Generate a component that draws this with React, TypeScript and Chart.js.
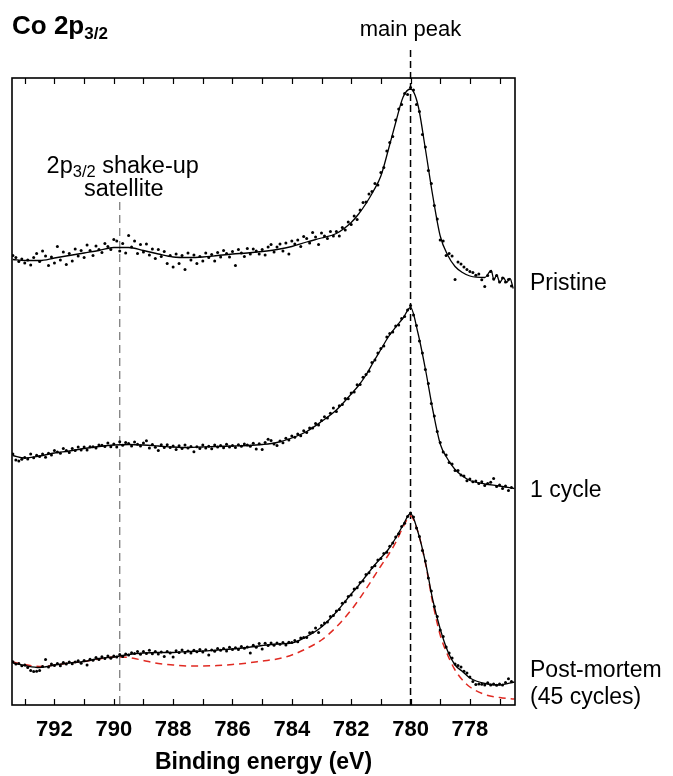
import React, { useEffect, useRef } from 'react';
import { Chart, registerables } from 'chart.js';

Chart.register(...registerables);

const FONT = '"Liberation Sans", Arial, Helvetica, sans-serif';

// Binding energy of the measured points (eV)
const dotEnergy = [
  793.4, 793.3, 793.2, 793.1, 793.0, 792.9, 792.8, 792.7, 792.6, 792.5,
  792.4, 792.3, 792.2, 792.1, 792.0, 791.9, 791.8, 791.7, 791.6, 791.5,
  791.4, 791.3, 791.2, 791.1, 791.0, 790.9, 790.8, 790.7, 790.6, 790.5,
  790.4, 790.3, 790.2, 790.1, 790.0, 789.9, 789.8, 789.7, 789.6, 789.5,
  789.4, 789.3, 789.2, 789.1, 789.0, 788.9, 788.8, 788.7, 788.6, 788.5,
  788.4, 788.3, 788.2, 788.1, 788.0, 787.9, 787.8, 787.7, 787.6, 787.5,
  787.4, 787.3, 787.2, 787.1, 787.0, 786.9, 786.8, 786.7, 786.6, 786.5,
  786.4, 786.3, 786.2, 786.1, 786.0, 785.9, 785.8, 785.7, 785.6, 785.5,
  785.4, 785.3, 785.2, 785.1, 785.0, 784.9, 784.8, 784.7, 784.6, 784.5,
  784.4, 784.3, 784.2, 784.1, 784.0, 783.9, 783.8, 783.7, 783.6, 783.5,
  783.4, 783.3, 783.2, 783.1, 783.0, 782.9, 782.8, 782.7, 782.6, 782.5,
  782.4, 782.3, 782.2, 782.1, 782.0, 781.9, 781.8, 781.7, 781.6, 781.5,
  781.4, 781.3, 781.2, 781.1, 781.0, 780.9, 780.8, 780.7, 780.6, 780.5,
  780.4, 780.3, 780.2, 780.1, 780.0, 779.9, 779.8, 779.7, 779.6, 779.5,
  779.4, 779.3, 779.2, 779.1, 779.0, 778.9, 778.8, 778.7, 778.6, 778.5,
  778.4, 778.3, 778.2, 778.1, 778.0, 777.9, 777.8, 777.7, 777.6, 777.5,
  777.4, 777.3, 777.2, 777.1, 777.0, 776.9, 776.8, 776.7, 776.6,
];

// Intensities (a.u., spectra stacked with offsets)
const pristineDots = [
  89.9, 89.5, 88.7, 89.2, 88.4, 89.0, 88.0, 89.5, 90.3, 88.7,
  90.8, 89.8, 87.9, 89.6, 88.4, 91.7, 89.0, 90.6, 88.1, 90.3,
  88.8, 91.2, 89.8, 90.9, 89.5, 92.0, 90.9, 89.9, 91.8, 91.1,
  90.5, 92.3, 91.7, 91.1, 93.1, 92.8, 90.8, 92.3, 90.4, 93.9,
  91.6, 92.8, 90.3, 92.1, 90.6, 92.2, 90.0, 91.2, 89.3, 91.1,
  89.7, 90.7, 88.3, 89.9, 87.6, 90.2, 88.3, 89.9, 87.1, 90.4,
  89.0, 90.0, 88.3, 89.7, 88.8, 90.4, 89.5, 90.1, 88.8, 90.5,
  89.6, 90.9, 90.3, 89.6, 90.7, 87.9, 91.1, 90.4, 89.7, 91.3,
  90.2, 91.2, 90.8, 90.2, 91.1, 90.0, 91.6, 92.1, 90.6, 91.6,
  92.2, 90.8, 92.4, 90.2, 92.8, 92.2, 93.0, 91.7, 93.7, 93.3,
  92.4, 94.5, 93.6, 92.1, 94.4, 93.8, 93.3, 94.7, 93.8, 94.7,
  93.8, 95.5, 95.0, 96.6, 96.1, 97.8, 97.1, 99.0, 100.5, 100.6,
  102.2, 102.7, 104.3, 104.0, 106.5, 107.5, 110.8, 112.5, 113.7, 117.0,
  119.2, 120.1, 122.3, 122.1, 123.5, 123.0, 120.1, 118.7, 114.1, 111.6,
  106.9, 104.3, 99.9, 97.2, 93.0, 92.8, 89.9, 90.3, 89.8, 85.1,
  88.6, 88.2, 87.6, 87.1, 86.7, 86.5, 85.95, 86.2, 85.05, 83.7,
  85.9, 86.7, 85.2, 85.9, 84.6, 85.4, 84.6, 85.1, 83.8,
];

const cycle1Dots = [
  50.2, 49.0, 48.8, 49.15, 49.5, 49.2, 50.2, 49.45, 49.95, 49.7,
  50.2, 49.55, 50.35, 50.0, 50.9, 50.6, 50.35, 51.3, 50.9, 50.5,
  51.3, 50.9, 51.6, 51.0, 51.6, 51.0, 51.65, 51.65, 51.4, 52.0,
  51.95, 51.7, 52.4, 51.65, 52.2, 51.6, 52.65, 51.95, 52.5, 52.3,
  51.8, 52.6, 52.15, 51.8, 52.4, 52.85, 51.4, 52.1, 51.55, 50.9,
  52.05, 51.5, 52.05, 51.5, 51.8, 51.1, 51.85, 51.3, 52.0, 51.4,
  51.7, 50.65, 51.65, 51.3, 52.0, 51.4, 51.75, 51.25, 52.0, 51.6,
  51.9, 51.45, 52.15, 51.6, 51.9, 51.5, 52.05, 51.75, 52.2, 52.0,
  51.75, 52.35, 51.2, 52.25, 51.1, 52.5, 53.15, 52.9, 52.2, 51.9,
  52.8, 52.45, 53.35, 53.0, 53.8, 53.55, 54.2, 53.85, 54.85, 54.5,
  55.4, 55.4, 56.3, 56.0, 56.9, 57.65, 57.4, 58.35, 59.4, 58.7,
  59.85, 60.1, 61.3, 61.25, 62.4, 62.6, 64.05, 64.1, 65.55, 66.1,
  66.75, 68.5, 69.0, 70.4, 71.3, 71.8, 73.6, 74.3, 74.6, 75.8,
  76.0, 77.3, 77.7, 79.0, 79.9, 78.0, 75.9, 72.8, 70.4, 67.1,
  64.3, 60.3, 57.8, 54.7, 52.5, 50.6, 50.0, 48.5, 48.2, 46.9,
  46.9, 46.0, 45.8, 44.85, 45.2, 44.65, 44.8, 44.3, 44.65, 43.9,
  44.3, 44.55, 45.3, 43.7, 44.0, 43.3, 43.8, 42.9, 43.5,
];

const postMortemDots = [
  8.65, 8.2, 8.3, 7.85, 8.0, 7.5, 6.9, 6.7, 6.75, 6.9,
  7.7, 9.1, 7.6, 8.2, 7.9, 8.3, 7.85, 8.5, 8.2, 8.6,
  8.25, 8.6, 8.85, 8.35, 8.9, 8.0, 9.15, 8.95, 9.5, 9.1,
  9.65, 9.3, 9.8, 9.35, 9.8, 9.6, 10.1, 9.7, 10.2, 10.0,
  10.45, 10.3, 10.7, 10.15, 10.7, 10.3, 10.95, 10.25, 10.7, 10.2,
  10.6, 9.7, 10.7, 10.4, 9.6, 10.85, 10.5, 11.0, 10.45, 10.8,
  10.4, 10.95, 10.65, 11.1, 10.6, 11.05, 10.0, 11.0, 10.75, 11.3,
  10.95, 11.3, 10.8, 11.55, 11.1, 11.45, 11.1, 11.7, 11.35, 11.6,
  10.4, 11.95, 11.55, 12.3, 11.2, 12.35, 11.9, 12.4, 11.95, 12.4,
  12.15, 12.5, 12.0, 12.55, 12.5, 12.9, 12.65, 13.4, 13.5, 13.5,
  14.45, 14.55, 15.4, 14.5, 15.9, 16.4, 16.6, 17.7, 17.9, 18.8,
  19.1, 20.35, 20.65, 21.7, 22.0, 23.2, 23.45, 24.5, 24.8, 26.1,
  26.45, 27.5, 27.85, 29.0, 29.3, 30.3, 30.55, 31.75, 32.4, 33.6,
  34.25, 35.7, 36.35, 37.7, 38.4, 37.6, 35.4, 33.7, 30.9, 28.8,
  25.4, 22.8, 19.7, 17.7, 15.0, 13.7, 11.6, 10.4, 9.4, 8.2,
  7.9, 7.6, 6.75, 6.4, 5.6, 4.7, 4.1, 4.2, 4.15, 4.0,
  4.45, 4.0, 4.2, 3.95, 4.2, 4.0, 4.5, 5.25, 4.7,
];

// Fitted envelopes
const fitEnergy = [
  793.4, 793.0, 792.5, 792.0, 791.5, 791.0, 790.5, 790.0, 789.5, 789.0,
  788.5, 788.0, 787.5, 787.0, 786.5, 786.0, 785.5, 785.0, 784.5, 784.0,
  783.5, 783.0, 782.5, 782.0, 781.75, 781.5, 781.25, 781.0, 780.75, 780.5,
  780.25, 780.0, 779.75, 779.5, 779.25, 779.0, 778.75, 778.5, 778.25, 778.0,
  777.5, 777.0, 776.5,
];

const pristineFitEnergy = [
  793.4, 793.0, 792.5, 792.0, 791.5, 791.0, 790.5, 790.0, 789.5, 789.0,
  788.5, 788.0, 787.5, 787.0, 786.5, 786.0, 785.5, 785.0, 784.5, 784.0,
  783.5, 783.0, 782.5, 782.0, 781.75, 781.5, 781.25, 781.0, 780.75, 780.5,
  780.25, 780.0, 779.75, 779.5, 779.25, 779.0, 778.75, 778.5, 778.25, 778.0,
  777.5, 777.28, 777.19, 777.1, 776.99, 776.87, 776.76, 776.65, 776.54,
];

const pristineFit = [
  89.1, 88.9, 88.9, 89.4, 89.9, 90.4, 90.9, 91.5, 91.5, 90.9,
  90.2, 89.6, 89.5, 89.6, 89.9, 90.2, 90.4, 90.7, 91.1, 91.7,
  92.6, 93.4, 94.3, 96.5, 98.2, 100.3, 102.8, 105.8, 111.0, 116.5,
  121.6, 123.2, 120.0, 111.2, 101.8, 93.8, 90.0, 87.7, 86.5, 85.8,
  85.5, 86.9, 85.0, 86.0, 84.5, 85.5, 84.5, 85.3, 83.3,
];

const cycle1Fit = [
  49.9, 49.4, 49.8, 50.4, 50.8, 51.3, 51.7, 52.0, 52.1, 52.0,
  51.8, 51.6, 51.5, 51.6, 51.7, 51.8, 51.9, 52.1, 52.5, 53.4,
  54.7, 56.7, 59.0, 62.2, 63.9, 66.0, 68.6, 71.1, 73.6, 75.6,
  77.4, 79.5, 74.4, 67.2, 59.0, 52.2, 49.2, 47.1, 45.8, 44.9,
  44.2, 43.8, 43.3,
];

const postMortemFit = [
  8.4, 7.9, 7.5, 8.0, 8.4, 8.7, 9.3, 9.6, 10.1, 10.4,
  10.5, 10.5, 10.7, 10.8, 11.0, 11.2, 11.5, 11.9, 12.2, 12.4,
  13.7, 15.6, 18.6, 22.2, 23.9, 25.8, 27.7, 29.4, 31.1, 33.4,
  36.0, 38.3, 34.6, 28.6, 21.0, 15.2, 10.8, 8.0, 6.7, 5.4,
  4.3, 4.0, 4.6,
];

// Red dashed reference curve under the post-mortem spectrum
const postMortemReference = [
  8.6, 8.1, 7.7, 8.0, 8.4, 8.7, 9.2, 9.6, 9.5, 8.9,
  8.3, 8.0, 7.8, 7.8, 7.9, 8.1, 8.4, 8.8, 9.2, 10.0,
  11.3, 13.0, 15.6, 19.0, 21.0, 23.2, 25.5, 27.8, 30.0, 32.5,
  35.6, 37.8, 34.6, 28.4, 20.4, 14.0, 10.0, 7.0, 5.0, 3.6,
  2.1, 1.5, 1.2,
];

const frameTicks = [793, 792, 791, 790, 789, 788, 787, 786, 785, 784, 783, 782, 781, 780, 779, 778, 777];
const MAIN_PEAK = 780.0;
const SATELLITE = 789.8;
const X_MIN = 776.48;
const X_MAX = 793.43;
const Y_MIN = 0;
const Y_MAX = 125.4;

const spectrumLabels = [
  { lines: ['Pristine'], value: 83.0 },
  { lines: ['1 cycle'], value: 41.6 },
  { lines: ['Post-mortem', '(45 cycles)'], value: 5.6 },
];

const toPoints = (xs: number[], ys: number[]) => xs.map((x, i) => ({ x, y: ys[i] }));

type Seg = { t: string; size: number; bold?: boolean; dy?: number };

function drawSegs(ctx: CanvasRenderingContext2D, segs: Seg[], x: number, y: number, align: 'left' | 'center') {
  ctx.textAlign = 'left';
  ctx.textBaseline = 'alphabetic';
  const widths = segs.map((s) => {
    ctx.font = `${s.bold ? 'bold ' : ''}${s.size}px ${FONT}`;
    return ctx.measureText(s.t).width;
  });
  const total = widths.reduce((a, b) => a + b, 0);
  let cx = align === 'center' ? x - total / 2 : x;
  segs.forEach((s, i) => {
    ctx.font = `${s.bold ? 'bold ' : ''}${s.size}px ${FONT}`;
    ctx.fillText(s.t, cx, y + (s.dy || 0));
    cx += widths[i];
  });
}

const decorPlugin = {
  id: 'decor',
  beforeDatasetsDraw(chart: any) {
    const { ctx, chartArea, scales } = chart;
    const xs = scales.x;
    ctx.save();
    // main peak line
    const px = xs.getPixelForValue(MAIN_PEAK);
    ctx.strokeStyle = '#000';
    ctx.lineWidth = 1.5;
    ctx.setLineDash([7, 4]);
    ctx.beginPath();
    ctx.moveTo(px, 50);
    ctx.lineTo(px, chartArea.bottom);
    ctx.stroke();
    // satellite line
    const sx = xs.getPixelForValue(SATELLITE);
    ctx.strokeStyle = '#7f7f7f';
    ctx.lineWidth = 1.3;
    ctx.setLineDash([8, 5]);
    ctx.beginPath();
    ctx.moveTo(sx, 202);
    ctx.lineTo(sx, chartArea.bottom);
    ctx.stroke();
    ctx.restore();
  },
  afterDraw(chart: any) {
    const { ctx, chartArea, scales } = chart;
    const xs = scales.x;
    const ys = scales.y;
    const { left, right, top, bottom } = chartArea;
    ctx.save();
    // frame
    ctx.strokeStyle = '#000';
    ctx.lineWidth = 1.6;
    ctx.setLineDash([]);
    ctx.strokeRect(left, top, right - left, bottom - top);
    // inward ticks
    ctx.lineWidth = 1.2;
    frameTicks.forEach((e) => {
      const px = Math.round(xs.getPixelForValue(e)) + 0.5;
      ctx.beginPath();
      ctx.moveTo(px, bottom);
      ctx.lineTo(px, bottom - 6);
      ctx.moveTo(px, top);
      ctx.lineTo(px, top + 6);
      ctx.stroke();
    });
    ctx.fillStyle = '#000';
    // title
    drawSegs(ctx, [
      { t: 'Co 2p', size: 26, bold: true },
      { t: '3/2', size: 17, bold: true, dy: 5 },
    ], 12, 34, 'left');
    // main peak label
    drawSegs(ctx, [{ t: 'main peak', size: 22 }], xs.getPixelForValue(MAIN_PEAK), 36, 'center');
    // satellite label
    const satX = xs.getPixelForValue(SATELLITE) + 3;
    drawSegs(ctx, [
      { t: '2p', size: 23.5 },
      { t: '3/2', size: 16.5, dy: 4 },
      { t: ' shake-up', size: 23.5 },
    ], satX, 173, 'center');
    drawSegs(ctx, [{ t: 'satellite', size: 23.5 }], satX + 1, 196, 'center');
    // spectrum labels
    spectrumLabels.forEach((lab) => {
      const base = ys.getPixelForValue(lab.value);
      lab.lines.forEach((ln, i) => {
        drawSegs(ctx, [{ t: ln, size: 23 }], right + 15, base + i * 27, 'left');
      });
    });
    ctx.restore();
  },
};

export default function App() {
  const canvasRef = useRef<HTMLCanvasElement | null>(null);

  useEffect(() => {
    if (!canvasRef.current) return;
    const dot = { showLine: false, pointRadius: 1.5, pointBackgroundColor: '#000', pointBorderWidth: 0, pointHoverRadius: 0 };
    const line = { showLine: true, pointRadius: 0, borderColor: '#000', borderWidth: 1.3, cubicInterpolationMode: 'monotone' as const, fill: false };
    const chart = new Chart(canvasRef.current, {
      type: 'scatter',
      data: {
        datasets: [
          { label: 'Pristine data', data: toPoints(dotEnergy, pristineDots), ...dot },
          { label: '1 cycle data', data: toPoints(dotEnergy, cycle1Dots), ...dot },
          { label: 'Post-mortem data', data: toPoints(dotEnergy, postMortemDots), ...dot },
          { label: 'Pristine fit', data: toPoints(pristineFitEnergy, pristineFit), ...line },
          { label: '1 cycle fit', data: toPoints(fitEnergy, cycle1Fit), ...line },
          { label: 'Post-mortem fit', data: toPoints(fitEnergy, postMortemFit), ...line },
          {
            label: 'Post-mortem reference',
            data: toPoints(fitEnergy, postMortemReference),
            ...line,
            borderColor: '#e02a22',
            borderWidth: 1.5,
            borderDash: [7, 5],
          },
        ] as any,
      },
      options: {
        animation: false,
        responsive: true,
        maintainAspectRatio: false,
        devicePixelRatio: 1,
        layout: { padding: { left: 12, right: 158, top: 78, bottom: 0 } },
        plugins: { legend: { display: false }, tooltip: { enabled: false } },
        events: [],
        scales: {
          x: {
            type: 'linear',
            reverse: true,
            min: X_MIN,
            max: X_MAX,
            afterFit: (s: any) => { s.height = 71; },
            grid: { display: false, drawTicks: false },
            border: { display: false },
            ticks: {
              stepSize: 2,
              includeBounds: false,
              autoSkip: false,
              maxRotation: 0,
              padding: 12,
              color: '#000',
              font: { family: FONT, size: 22, weight: 'bold' },
            },
            title: {
              display: true,
              text: 'Binding energy (eV)',
              color: '#000',
              font: { family: FONT, size: 23, weight: 'bold' },
              padding: { top: 0, bottom: 0 },
            },
          },
          y: { display: false, min: Y_MIN, max: Y_MAX },
        },
      } as any,
      plugins: [decorPlugin],
    });
    return () => chart.destroy();
  }, []);

  return (
    <div style={{ position: 'absolute', left: 0, top: 0, width: 673, height: 776, background: '#fff' }}>
      <canvas ref={canvasRef} style={{ display: 'block' }} />
    </div>
  );
}
